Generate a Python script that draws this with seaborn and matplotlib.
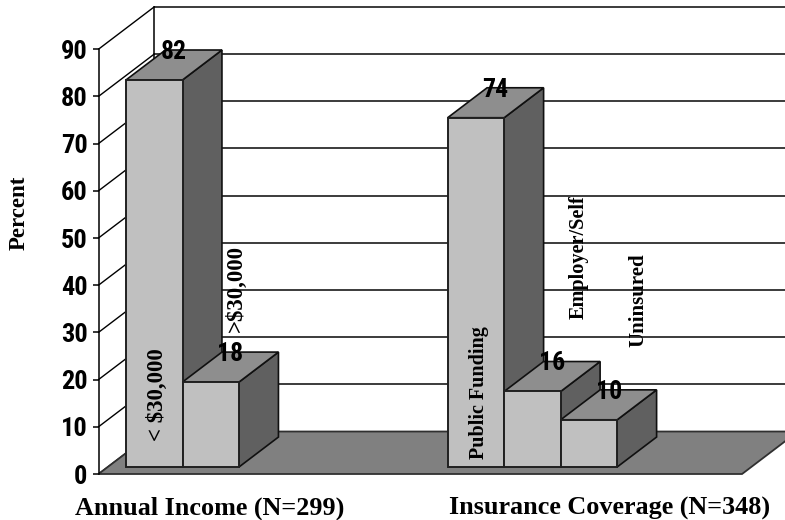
import matplotlib
matplotlib.use("Agg")
import matplotlib.pyplot as plt
from matplotlib.patches import Polygon
import numpy as np
import pandas as pd
import seaborn as sns

# Survey results, in percent of respondents
categories = ["< $30,000", ">$30,000", "Public Funding", "Employer/Self", "Uninsured"]
percents = [82, 18, 74, 16, 10]
groups = ["Annual Income (N=299)", "Annual Income (N=299)",
          "Insurance Coverage (N=348)", "Insurance Coverage (N=348)", "Insurance Coverage (N=348)"]
y_ticks = [0, 10, 20, 30, 40, 50, 60, 70, 80, 90]

# Layout of the faux-3D box, x in bar widths and y in percent units
PX_PER_X, PX_PER_Y = 56.5, 4.72
FLOOR_RIGHT = 11.39
DEPTH_X, DEPTH_Y = 0.99, 9.0      # how far the back wall is shifted from the front
BAR_NEAR, BAR_FAR = 0.165, 0.87   # depth range occupied by the bars
group_start = {"Annual Income (N=299)": 0.487, "Insurance Coverage (N=348)": 6.18}

NARROW = ["Roboto Condensed", "Open Sans Condensed", "Liberation Sans Narrow", "Liberation Sans"]
SERIF = ["Liberation Serif", "DejaVu Serif"]

df = pd.DataFrame({"category": categories, "percent": percents, "group": groups})
df["slot"] = df.groupby("group").cumcount()
df["center"] = df["group"].map(group_start) + df["slot"] + 0.5

sns.set_theme(style="white")
fig = plt.figure(figsize=(7.85, 5.2), dpi=100, facecolor="white")
ax = fig.add_axes([0, 0, 1, 1], facecolor="none")


def project(x, value, depth):
    """Shift a front-plane point back along the chart's oblique depth axis."""
    return x + depth * DEPTH_X, value + depth * DEPTH_Y


# Back and side walls
for tick in y_ticks:
    bx, by = project(0, tick, 1)
    ax.plot([bx, FLOOR_RIGHT + 2], [by, by], color="#1a1a1a", lw=1.2, zorder=1)
    ax.plot([0, bx], [tick, by], color="black", lw=1.0, zorder=1)
bx, by = project(0, y_ticks[-1], 1)
ax.plot([bx, bx], [DEPTH_Y, by], color="black", lw=1.1, zorder=1)

# Floor
floor = [project(0, 0, 0), project(FLOOR_RIGHT, 0, 0), project(FLOOR_RIGHT, 0, 1), project(0, 0, 1)]
ax.add_patch(Polygon(floor, closed=True, facecolor="#808080", edgecolor="#303030", lw=1.3, zorder=2))

# Front faces of the bars, standing a little behind the floor's front edge
base = BAR_NEAR * DEPTH_Y
sns.barplot(data=df, x="center", y="percent", native_scale=True, width=1.0, gap=0,
            color="#c0c0c0", saturation=1, bottom=base, edgecolor="#202020",
            linewidth=1.4, errorbar=None, zorder=20, ax=ax)

# Top and side faces, extruded from each bar's value
for i, row in enumerate(df.itertuples()):
    left = row.center - 0.5
    right = row.center + 0.5
    top = base + row.percent
    span = BAR_FAR - BAR_NEAR
    side = [(right, top), project(right, top, span), project(right, base, span), (right, base)]
    cap = [(left, top), (right, top), project(right, top, span), project(left, top, span)]
    ax.add_patch(Polygon(side, closed=True, facecolor="#606060", edgecolor="#101010", lw=1.2, zorder=4 + i))
    ax.add_patch(Polygon(cap, closed=True, facecolor="#8e8e8e", edgecolor="#101010", lw=1.2, zorder=4 + i))
    lx, _ = project(row.center, top, span / 2)
    _, ly = project(row.center, top, span)
    ax.text(lx, ly - 0.4, str(row.percent), ha="center", va="center", fontsize=18.5, fontweight="bold",
            family=NARROW, color="black", zorder=40)

# Rotated category names: sideways shift from the bar centre, height in percent units, font size
name_dx = [0.06, 0.46, 0.06, 0.82, 0.87]
name_y = [16.8, 39.4, 17.2, 46.0, 36.9]
name_size = [16.5, 16.5, 14.5, 14.6, 15]
for row, dx, y, size in zip(df.itertuples(), name_dx, name_y, name_size):
    ax.text(row.center + dx, y, row.category, rotation=90, ha="center", va="center",
            fontsize=size, fontweight="bold", family=SERIF, color="black", zorder=40)

# Group captions below the floor
ax.text(1.973, -8.58, "Annual Income (N=299)", ha="center", va="baseline", fontsize=18.8,
        fontweight="bold", family=SERIF, color="black")
ax.text(9.05, -8.58, "Insurance Coverage (N=348)", ha="center", va="baseline", fontsize=18.8,
        fontweight="bold", family=SERIF, color="black")
ax.text(-1.40, 55.4, "Percent", rotation=90, ha="center", va="center", fontsize=16.5,
        fontweight="bold", family=SERIF, color="black")

# Value axis at the front-left corner
sns.despine(ax=ax, top=True, right=True, bottom=True)
ax.spines["left"].set_position(("data", 0))
ax.spines["left"].set_bounds(0, y_ticks[-1])
ax.spines["left"].set_color("black")
ax.spines["left"].set_linewidth(1.1)
ax.spines["left"].set_zorder(3)
ax.set_yticks(y_ticks)
ax.set_yticklabels([str(t) for t in y_ticks], fontsize=19, fontweight="bold", family=NARROW, color="black")
ax.tick_params(axis="y", left=True, length=4.5, width=1.1, color="black", pad=3.5)
ax.xaxis.set_visible(False)
ax.set_ylabel("")

ax.set_xlim(-98.5 / PX_PER_X, (785 - 98.5) / PX_PER_X)
ax.set_ylim(-(520 - 474) / PX_PER_Y, 474 / PX_PER_Y)

fig.savefig("out.png", dpi=100)
